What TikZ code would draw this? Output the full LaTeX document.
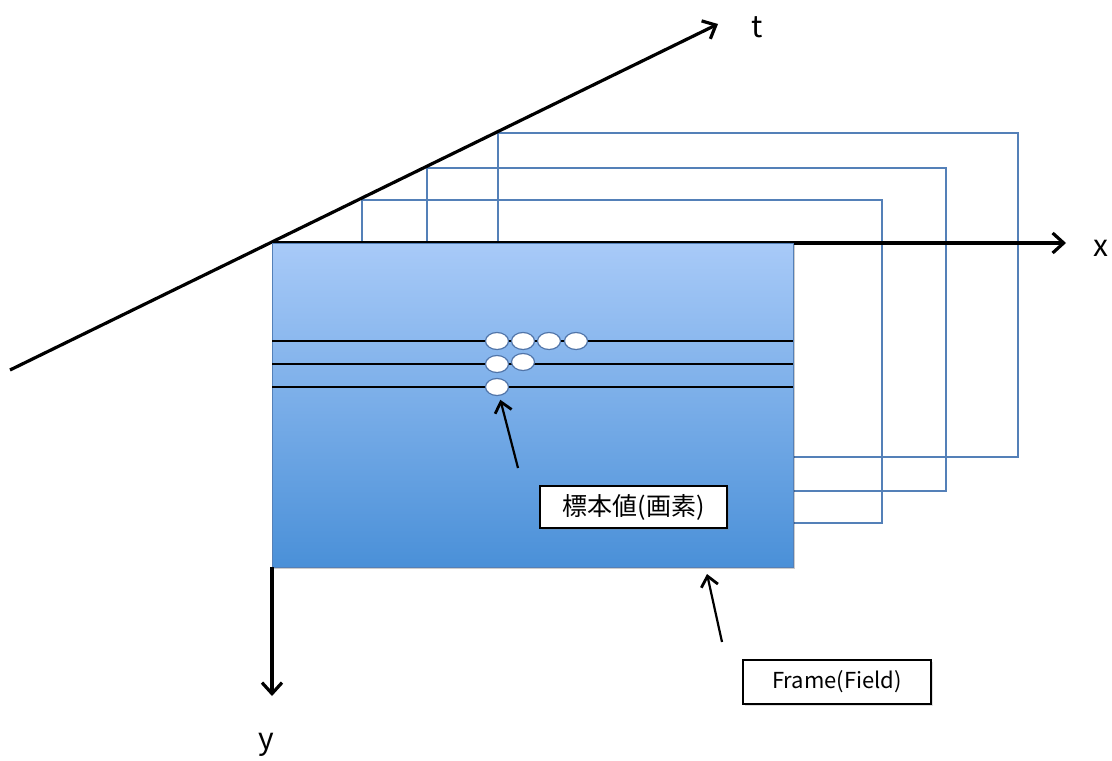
\documentclass[tikz,border=0pt]{standalone}
\usepackage{fontspec}
\setmainfont{Noto Sans CJK JP}
\usetikzlibrary{arrows.meta,shapes.geometric,shadows}

\definecolor{framelight}{RGB}{168,202,248}
\definecolor{framedark}{RGB}{74,144,216}
\definecolor{frameline}{RGB}{84,128,184}
\definecolor{sampleline}{RGB}{80,116,168}

\begin{document}
\begin{tikzpicture}[x=0.5pt,y=-0.5pt]
\tikzstyle{axis}=[black,line width=1.6pt,-{Straight Barb[length=5.5pt,width=10pt,line width=1.6pt]}]
\tikzstyle{pointer}=[black,line width=1.1pt,-{Straight Barb[length=5pt,width=8.5pt,line width=1.4pt]}]
\tikzstyle{backframe}=[frameline,line width=0.8pt]
\tikzstyle{scanline}=[black,line width=1.1pt]
\tikzstyle{sample}=[ellipse,draw=sampleline,line width=0.6pt,fill=white,inner sep=0pt,minimum width=11.5pt,minimum height=8.5pt]
\tikzstyle{labelbox}=[draw=black,line width=0.9pt,fill=white,inner sep=0pt,drop shadow={opacity=0.25,shadow xshift=0.8pt,shadow yshift=-0.8pt}]
\tikzstyle{axislabel}=[font=\fontsize{15}{17}\selectfont]
\useasboundingbox (0,0) rectangle (1112,760);

% frames further along t
\draw[backframe] (498,133) rectangle (1018,457);
\draw[backframe] (427,168) rectangle (946,491);
\draw[backframe] (362,200) rectangle (882,523);

% t axis
\coordinate (tstart) at (10,370);
\coordinate (tend) at (718,24);
\draw[axis] (tstart) -- (tend);
\node[axislabel] (tlabel) at (757,27) {t};

% x axis along the top edge
\coordinate (origin) at (272,243);
\coordinate (xend) at (1066,243);
\draw[axis] (origin) -- (xend);
\node[axislabel] (xlabel) at (1101,248) {x};

% current frame
\coordinate (corner) at (793,567);
\fill[black,opacity=0.2] (274,245) rectangle (795,569);
\shade[top color=framelight,bottom color=framedark,draw=frameline,line width=0.5pt] (origin) rectangle (corner);

% y axis
\coordinate (ystart) at (272,567);
\coordinate (yend) at (272,696);
\draw[axis] (ystart) -- (yend);
\node[axislabel] (ylabel) at (266,745) {y};

% scan lines
\draw[scanline] (272,341) -- (793,341);
\draw[scanline] (272,364) -- (793,364);
\draw[scanline] (272,387) -- (793,387);

% samples on the scan lines
\node[sample] (s11) at (497,341) {};
\node[sample] (s12) at (523,341) {};
\node[sample] (s13) at (549,341) {};
\node[sample] (s14) at (576,341) {};
\node[sample] (s21) at (497,364) {};
\node[sample] (s22) at (523,362) {};
\node[sample] (s31) at (497,387) {};

% labels
\node[labelbox,minimum width=93.5pt,minimum height=21pt,font=\fontsize{12.5}{14}\selectfont] (samplelabel) at (633.5,507) {標本値(画素)};
\node[labelbox,minimum width=94pt,minimum height=22pt,font=\fontsize{11}{13}\selectfont] (framelabel) at (837,682) {Frame(Field)};

\coordinate (stail) at (518,468);
\draw[pointer,shorten >=2pt] (stail) -- (s31);
\coordinate (ftail) at (722,642);
\coordinate (fhead) at (707,574);
\draw[pointer] (ftail) -- (fhead);
\end{tikzpicture}
\end{document}
